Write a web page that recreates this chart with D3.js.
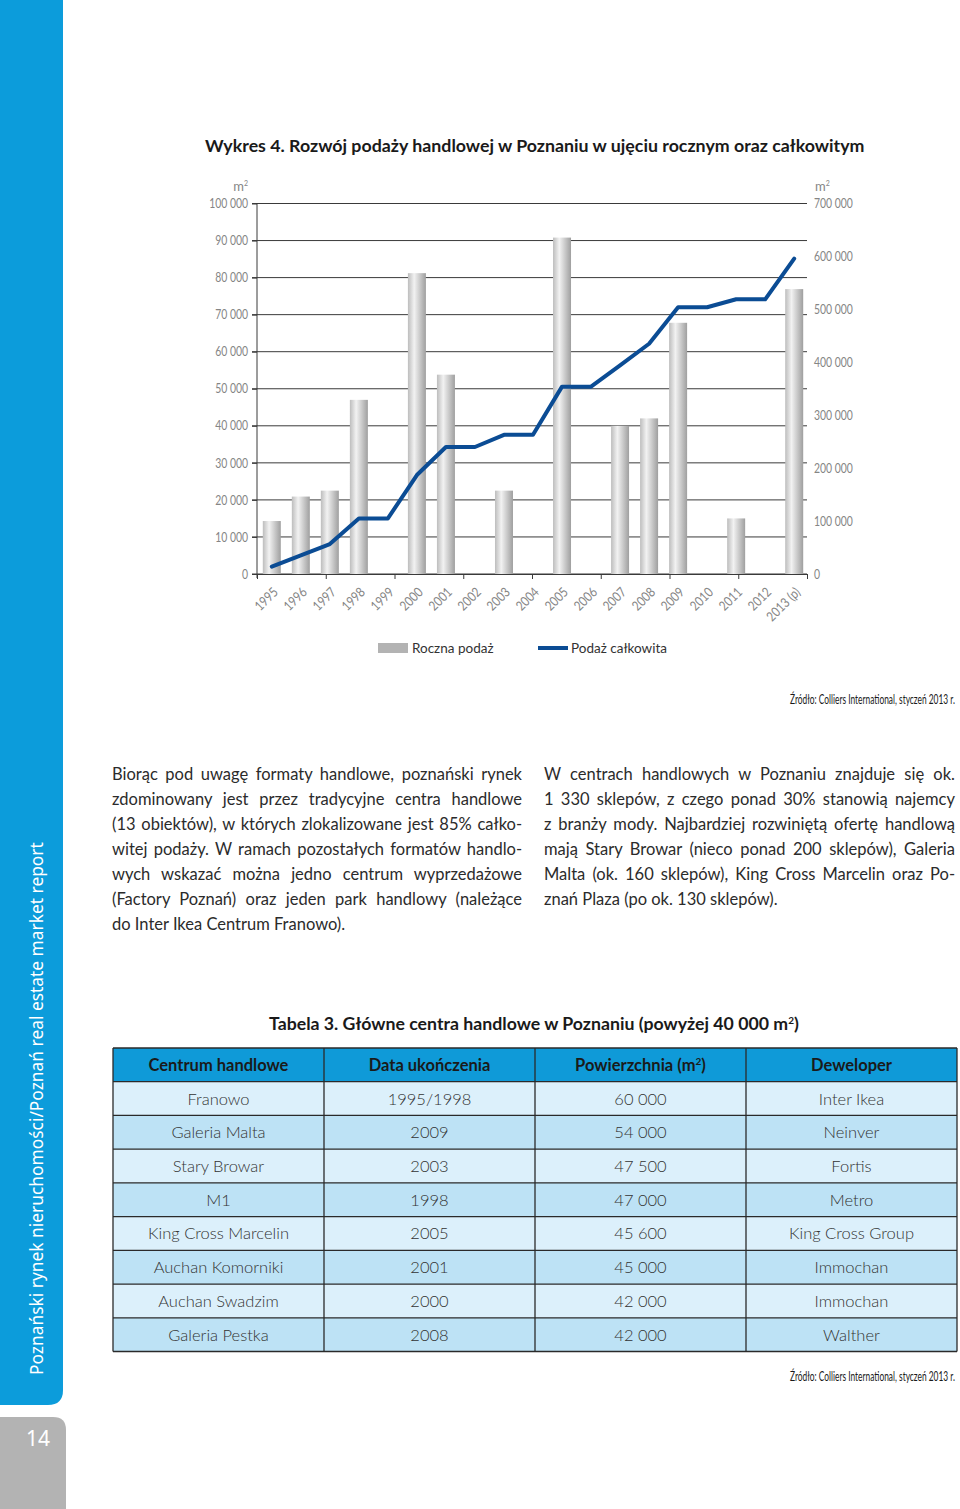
<!DOCTYPE html>
<html><head><meta charset="utf-8">
<script src="https://cdn.jsdelivr.net/npm/d3@7"></script>
<style>
html,body{margin:0;padding:0;background:#fff;}
svg{display:block;}
</style></head>
<body>
<script>
// ---------- DATA ----------
const years = ["1995","1996","1997","1998","1999","2000","2001","2002","2003","2004","2005","2006","2007","2008","2009","2010","2011","2012","2013 (p)"];
const annualSupply = [14300,20900,22500,47000,0,81200,53800,0,22500,0,90800,0,40000,42000,67800,0,15000,0,76900];
const totalSupply = [14000,35300,56600,105000,105000,187000,240000,240000,263000,263000,354000,354000,394000,435000,504000,504000,519000,519000,596000];
const leftTicks = [0,10000,20000,30000,40000,50000,60000,70000,80000,90000,100000];
const rightTicks = [0,100000,200000,300000,400000,500000,600000,700000];
const legendLabels = ["Roczna podaż","Podaż całkowita"];
const chartTitle = "Wykres 4. Rozwój podaży handlowej w Poznaniu w ujęciu rocznym oraz całkowitym";
const sourceText = "Źródło: Colliers International, styczeń 2013 r.";
const leftParagraph = [
 "Biorąc pod uwagę formaty handlowe, poznański rynek",
 "zdominowany jest przez tradycyjne centra handlowe",
 "(13 obiektów), w których zlokalizowane jest 85% całko-",
 "witej podaży. W ramach pozostałych formatów handlo-",
 "wych wskazać można jedno centrum wyprzedażowe",
 "(Factory Poznań) oraz jeden park handlowy (należące",
 "do Inter Ikea Centrum Franowo)."
];
const rightParagraph = [
 "W centrach handlowych w Poznaniu znajduje się ok.",
 "1 330 sklepów, z czego ponad 30% stanowią najemcy",
 "z branży mody. Najbardziej rozwiniętą ofertę handlową",
 "mają Stary Browar (nieco ponad 200 sklepów), Galeria",
 "Malta (ok. 160 sklepów), King Cross Marcelin oraz Po-",
 "znań Plaza (po ok. 130 sklepów)."
];
const tableHeader = ["Centrum handlowe","Data ukończenia","Powierzchnia (m²)","Deweloper"];
const centres = ["Franowo","Galeria Malta","Stary Browar","M1","King Cross Marcelin","Auchan Komorniki","Auchan Swadzim","Galeria Pestka"];
const completion = ["1995/1998","2009","2003","1998","2005","2001","2000","2008"];
const area = ["60 000","54 000","47 500","47 000","45 600","45 000","42 000","42 000"];
const developer = ["Inter Ikea","Neinver","Fortis","Metro","King Cross Group","Immochan","Immochan","Walther"];
const sidebarText = "Poznański rynek nieruchomości/Poznań real estate market report";
const pageNumber = "14";

// ---------- SETUP ----------
const W = 960, H = 1509;
const svg = d3.select("body").append("svg").attr("width", W).attr("height", H);
const bodyFont = "Lato, 'Open Sans', sans-serif";
const loc = d3.formatLocale({decimal: ",", thousands: " ", grouping: [3], currency: ["", ""]});
const fmt = loc.format(",");

function fitWidth(sel, target) {
  const w = sel.node().getComputedTextLength();
  const fs = parseFloat(sel.attr("font-size"));
  sel.attr("font-size", (fs * target / w).toFixed(2));
}
function squeeze(sel, factor) {
  sel.each(function () {
    const w = this.getComputedTextLength();
    d3.select(this).attr("textLength", (w * factor).toFixed(2)).attr("lengthAdjust", "spacingAndGlyphs");
  });
}
const axisGray = "#858585";

// Sidebar
svg.append("path")
  .attr("d", "M0,0 H63 V1390 Q63,1405 48,1405 H0 Z")
  .attr("fill", "#0c9cdb");
const sideT = svg.append("text")
  .attr("transform", "translate(43,1375) rotate(-90)")
  .attr("font-family", "'Noto Sans', 'Open Sans', sans-serif")
  .attr("font-size", 17).attr("fill", "#fff")
  .text(sidebarText);
fitWidth(sideT, 533);
svg.append("path")
  .attr("d", "M0,1417 H53 Q66,1417 66,1430 V1509 H0 Z")
  .attr("fill", "#b3b3b3");
svg.append("text").attr("x", 38).attr("y", 1446).attr("text-anchor", "middle")
  .attr("font-family", "'Noto Sans', sans-serif").attr("font-size", 21).attr("fill", "#fff")
  .text(pageNumber);

// Title
const title = svg.append("text").attr("x", 205).attr("y", 152)
  .attr("font-family", bodyFont).attr("font-weight", 700).attr("font-size", 16).attr("fill", "#1a1a1a")
  .text(chartTitle);
fitWidth(title, 660);

// ---------- CHART ----------
const x0 = 257, x1 = 807, yTop = 203.5, yBot = 574;
const yL = d3.scaleLinear().domain([0, 100000]).range([yBot, yTop]);
const yR = d3.scaleLinear().domain([0, 700000]).range([yBot, yTop]);
const xb = d3.scaleBand().domain(years).range([x0, 809]).paddingInner(0.38).paddingOuter(0.2);

const defs = svg.append("defs");
const grad = defs.append("linearGradient").attr("id", "barGrad").attr("x1", "0").attr("x2", "1").attr("y1", "0").attr("y2", "0");
grad.append("stop").attr("offset", "0%").attr("stop-color", "#bdbdbd");
grad.append("stop").attr("offset", "35%").attr("stop-color", "#f2f2f2");
grad.append("stop").attr("offset", "100%").attr("stop-color", "#9f9f9f");

const g = svg.append("g");
g.append("g").selectAll("line").data(leftTicks).join("line")
  .attr("x1", x0 - 5).attr("x2", x1)
  .attr("y1", d => yL(d)).attr("y2", d => yL(d))
  .attr("stroke", "#3a3a3a").attr("stroke-width", 1);

g.append("g").selectAll("rect").data(annualSupply).join("rect")
  .attr("x", (d, i) => xb(years[i]))
  .attr("width", xb.bandwidth())
  .attr("y", d => yL(d))
  .attr("height", d => yBot - yL(d))
  .attr("fill", "url(#barGrad)");

const axL = g.append("g").attr("transform", `translate(${x0},0)`)
  .call(d3.axisLeft(yL).tickValues(leftTicks).tickFormat(fmt).tickSize(5).tickPadding(4));
axL.selectAll(".tick line").attr("stroke", "#3a3a3a");
axL.selectAll("text").attr("font-family", bodyFont).attr("font-size", 13).attr("fill", axisGray);
squeeze(axL.selectAll("text"), 0.8);
axL.select(".domain").attr("stroke", "#3a3a3a").attr("d", `M-5,${yTop}H0V${yBot + 4}`);

const axR = g.append("g").attr("transform", `translate(${x1},0)`)
  .call(d3.axisRight(yR).tickValues(rightTicks).tickFormat(fmt).tickSize(0).tickPadding(7));
axR.select(".domain").remove();
axR.selectAll("text").attr("font-family", bodyFont).attr("font-size", 13).attr("fill", axisGray);
squeeze(axR.selectAll("text"), 0.8);

[[248, "end"], [815, "start"]].forEach(([xx, anc]) => {
  const t = svg.append("text").attr("x", xx).attr("y", 191).attr("text-anchor", anc)
    .attr("font-family", bodyFont).attr("font-size", 13).attr("fill", axisGray);
  t.append("tspan").text("m");
  t.append("tspan").attr("font-size", 7).attr("dy", -5).text("2");
});

const xt = d3.scaleLinear().domain([0, 8]).range([x0, x1]);
const axB = g.append("g").attr("transform", `translate(0,${yBot})`)
  .call(d3.axisBottom(xt).tickValues(d3.range(9)).tickFormat("").tickSize(5).tickSizeOuter(0));
axB.select(".domain").attr("stroke", "#3a3a3a");
axB.selectAll(".tick line").attr("stroke", "#3a3a3a");

const xl = g.append("g").selectAll("text").data(years).join("text")
  .attr("transform", d => `translate(${xb(d) + xb.bandwidth() / 2 + 7},${yBot + 19}) rotate(-45)`)
  .attr("text-anchor", "end")
  .attr("font-family", bodyFont).attr("font-size", 13.5).attr("fill", axisGray)
  .text(d => d);
squeeze(xl, 0.84);

const line = d3.line().x((d, i) => xb(years[i]) + xb.bandwidth() / 2).y(d => yR(d));
g.append("path").datum(totalSupply).attr("d", line)
  .attr("fill", "none").attr("stroke", "#0b4c94").attr("stroke-width", 4)
  .attr("stroke-linejoin", "round").attr("stroke-linecap", "round");

// legend
svg.append("rect").attr("x", 378).attr("y", 643).attr("width", 30).attr("height", 10).attr("fill", "#b3b3b3");
svg.append("text").attr("x", 412).attr("y", 653).attr("font-family", bodyFont).attr("font-size", 13.5).attr("fill", "#333").text(legendLabels[0]);
svg.append("line").attr("x1", 538).attr("x2", 568).attr("y1", 648).attr("y2", 648).attr("stroke", "#0b4c94").attr("stroke-width", 4);
svg.append("text").attr("x", 571).attr("y", 653).attr("font-family", bodyFont).attr("font-size", 13.5).attr("fill", "#333").text(legendLabels[1]);

// source texts (condensed via horizontal scale)
function source(y) {
  const gS = svg.append("g");
  const t = gS.append("text").attr("x", 0).attr("y", 0).attr("text-anchor", "end")
    .attr("font-family", bodyFont).attr("font-size", 13).attr("fill", "#1a1a1a").text(sourceText);
  const w = t.node().getComputedTextLength();
  gS.attr("transform", `translate(955,${y}) scale(${(165 / w).toFixed(3)},1)`);
}
source(704);
source(1381);

// ---------- PARAGRAPHS ----------
function paragraph(lines, xL, xR, y0, lh) {
  lines.forEach((ln, i) => {
    const t = svg.append("text").attr("x", xL).attr("y", y0 + i * lh)
      .attr("font-family", bodyFont).attr("font-size", 16.5).attr("fill", "#2b2b2b").text(ln);
    if (i < lines.length - 1) {
      const w = t.node().getComputedTextLength();
      const nSp = ln.split(" ").length - 1;
      const extra = (xR - xL) - w;
      if (extra >= 0 && nSp > 0) t.attr("word-spacing", (extra / nSp).toFixed(2));
      else t.attr("textLength", xR - xL).attr("lengthAdjust", "spacingAndGlyphs");
    }
  });
}
paragraph(leftParagraph, 112, 522, 780, 25);
paragraph(rightParagraph, 544, 955, 780, 25);

// ---------- TABLE ----------
const tt = svg.append("text").attr("x", 269).attr("y", 1030)
  .attr("font-family", bodyFont).attr("font-weight", 700).attr("font-size", 16).attr("fill", "#1a1a1a");
tt.append("tspan").text("Tabela 3. Główne centra handlowe w Poznaniu (powyżej 40 000 m");
tt.append("tspan").attr("font-size", 10).attr("dy", -6).text("2");
tt.append("tspan").attr("dy", 6).text(")");
{
  const w = tt.node().getComputedTextLength();
  tt.attr("font-size", (16 * 531 / w).toFixed(2));
}

const tx = d3.scaleBand().domain(d3.range(4)).range([113, 957]);
const ty = d3.scaleBand().domain(d3.range(9)).range([1048, 1351.5]);
const rows = centres.map((c, i) => [c, completion[i], area[i], developer[i]]);
const tg = svg.append("g");
tg.selectAll("rect.row").data(d3.range(9)).join("rect").attr("class", "row")
  .attr("x", 113).attr("width", 844).attr("y", d => ty(d)).attr("height", ty.bandwidth())
  .attr("fill", d => d === 0 ? "#0f9ad8" : (d % 2 === 1 ? "#dcf0fb" : "#bde2f5"));
tableHeader.forEach((h, j) => {
  const t = tg.append("text").attr("x", tx(j) + tx.bandwidth() / 2).attr("y", ty(0) + ty.bandwidth() / 2 + 6)
    .attr("text-anchor", "middle").attr("font-family", bodyFont).attr("font-weight", 700)
    .attr("font-size", 16.5).attr("fill", "#1a1a1a");
  if (h.includes("²")) {
    t.append("tspan").text("Powierzchnia (m");
    t.append("tspan").attr("font-size", 10).attr("dy", -6).text("2");
    t.append("tspan").attr("dy", 6).text(")");
  } else t.text(h);
});
rows.forEach((r, i) => {
  r.forEach((c, j) => {
    tg.append("text").attr("x", tx(j) + tx.bandwidth() / 2).attr("y", ty(i + 1) + ty.bandwidth() / 2 + 6)
      .attr("text-anchor", "middle").attr("font-family", bodyFont).attr("font-weight", 300)
      .attr("font-size", 16.5).attr("fill", "#333").text(c);
  });
});
const bc = "#2a2a2a";
tg.selectAll("line.h").data(d3.range(10)).join("line").attr("class", "h")
  .attr("x1", 113).attr("x2", 957)
  .attr("y1", d => d < 9 ? ty(d) : 1351.5).attr("y2", d => d < 9 ? ty(d) : 1351.5)
  .attr("stroke", bc).attr("stroke-width", 1.3);
tg.selectAll("line.v").data(d3.range(5)).join("line").attr("class", "v")
  .attr("y1", 1048).attr("y2", 1351.5)
  .attr("x1", d => d < 4 ? tx(d) : 957).attr("x2", d => d < 4 ? tx(d) : 957)
  .attr("stroke", bc).attr("stroke-width", 1.3);
</script>
</body></html>
